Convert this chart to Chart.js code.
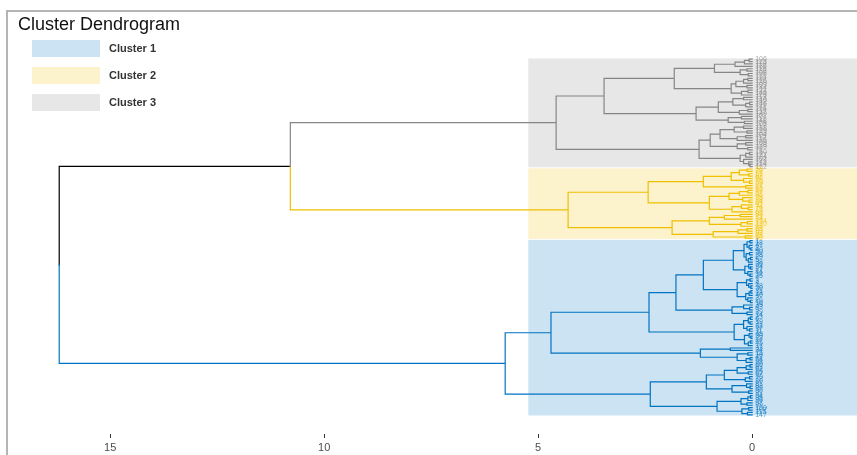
<!DOCTYPE html>
<html>
<head>
<meta charset="utf-8">
<title>Cluster Dendrogram</title>
<script src="https://cdn.jsdelivr.net/npm/chart.js@4/dist/chart.umd.min.js"></script>
<style>
  html, body { margin: 0; padding: 0; background: #fff; overflow: hidden; }
  #wrap { position: relative; width: 857px; height: 455px; }
  #frame { position: absolute; left: 6px; top: 10px; right: 0; bottom: 0;
           border-left: 2px solid #b4b4b4; border-top: 2px solid #b4b4b4; pointer-events: none; }
  canvas { position: absolute; left: 0; top: 0; }
  #title { position: absolute; left: 18px; top: 14px; font: 18px "Liberation Sans", Arial, sans-serif; color: #111; }
  .key { position: absolute; left: 32px; width: 68px; height: 17px; }
  .keylab { position: absolute; left: 109px; font: bold 11px "Liberation Sans", Arial, sans-serif; color: #333; }
</style>
</head>
<body>
<div id="wrap">
  <canvas id="dend" width="857" height="455"></canvas>
  <div id="frame"></div>
  <div id="title">Cluster Dendrogram</div>
  <div id="legend"></div>
</div>
<script>
// Cluster names and colours (JCO palette), rectangles are the same colours at 20% opacity
const clusterNames = ['Cluster 1', 'Cluster 2', 'Cluster 3'];
const clusterColors = ['#0073C2', '#EFC000', '#868686'];
const clusterFills = ['rgba(0,115,194,0.2)', 'rgba(239,192,0,0.2)', 'rgba(134,134,134,0.2)'];

// Subtrees: [height, upper child, lower child]; a bare number is a leaf (observation id)
const cluster3Tree = [4.58,
  [3.46,
    [1.82,
      [0.88,
        [0.40, [0.18, [0.07, 106, 123], 119], 136],
        [0.28, [0.12, 118, 132], [0.09, 108, 131]]],
      [0.49,
        [0.38, [0.20, [0.10, 110, 126], 130], [0.12, 103, 144]],
        [0.25, [0.10, 121, 145], 125]]],
    [1.31,
      [0.79, [0.45, [0.20, 113, 140], [0.15, [0.06, 142, 146], 141]], [0.30, [0.10, 116, 137], 149]],
      [0.56, [0.25, 101, 111], [0.18, 148, 105]]]],
  [1.24,
    [0.98,
      [0.75, [0.42, [0.20, 117, 138], [0.12, 129, 133]], [0.35, [0.15, 104, 112], 135]],
      [0.35, [0.15, 109, 128], [0.10, 139, 71]]],
    [0.28, [0.15, [0.06, 150, 127], 124], [0.20, 102, [0.08, 143, [0.05, 114, 122]]]]]];

const cluster2Tree = [4.30,
  [2.43,
    [1.14,
      [0.49, [0.30, [0.12, 53, 78], [0.08, 51, 87]], [0.20, 66, [0.06, 76, 59]]],
      [0.15, 77, 55]],
    [1.00,
      [0.54, [0.30, [0.10, 52, 57], 86], [0.22, 75, [0.07, 98, 64]]],
      [0.47, [0.25, 92, [0.09, 74, 79]], 69]]],
  [1.87,
    [1.00,
      [0.65, [0.28, 88, 73], 84],
      [0.26, [0.11, 134, 120], 63]],
    [0.91,
      [0.33, [0.12, 68, 83], 93],
      [0.16, 85, 56]]]];

const cluster1Tree = [5.77,
  [4.70,
    [2.41,
      [1.78,
        [1.14,
          [0.44,
            [0.19, [0.12, [0.05, 1, 18], [0.07, 41, [0.03, 8, 40]]], [0.14, [0.06, 50, 28], [0.09, [0.04, 29, 5], 38]]],
            [0.17, [0.08, 36, [0.04, 24, 27]], [0.10, 44, [0.05, 12, 25]]]],
          [0.35,
            [0.13, [0.05, 7, 3], [0.08, 4, [0.03, 48, 30]]],
            [0.15, [0.07, [0.03, 31, 13], 46], [0.10, 2, [0.04, 26, 10]]]]],
        [0.47, [0.20, 35, [0.06, 43, 9]], [0.12, 39, 14]]],
      [0.42,
        [0.20, [0.09, [0.04, 23, 6], [0.05, 19, 21]], [0.12, 32, [0.06, 37, 11]]],
        [0.18, [0.07, 49, [0.03, 20, 22]], [0.09, [0.04, 47, 45], 17]]]],
    [1.21,
      [0.51, 33, 34],
      [0.35, [0.10, 15, 16], [0.14, [0.05, 42, 54], 58]]]],
  [2.38,
    [1.07,
      [0.65, [0.35, [0.14, [0.05, 60, 61], 62], [0.09, 65, 67]], [0.16, [0.06, 70, 72], 80]],
      [0.47, [0.13, 81, [0.05, 82, 89]], [0.08, 90, 91]]],
    [0.82,
      [0.26, [0.10, [0.04, 94, 95], 96], [0.12, 97, 99]],
      [0.24, [0.08, 100, 107], [0.11, 115, 147]]]]];

// Heights of the two top merges: cluster 3 + cluster 2, then the root
const mergeHeights = [10.79, 16.19];
// Height at which the cluster rectangles start
const rectHeight = 5.23;
// Axis ticks
const xTickValues = [15, 10, 5, 0];

// ---- lay out the tree: leaves get consecutive positions, nodes sit midway between children
const leaves = [];
const segments = {};
let leafPos = 0;

function addEdge(parent, child) {
  const pts = segments[child.color] || (segments[child.color] = []);
  pts.push({ x: parent.h, y: parent.y }, { x: parent.h, y: child.y }, { x: child.h, y: child.y }, { x: NaN, y: NaN });
}

function place(node, color, cluster) {
  if (!Array.isArray(node)) {
    leafPos += 1;
    leaves.push({ label: String(node), y: leafPos, color: color, cluster: cluster });
    return { h: 0, y: leafPos, color: color };
  }
  const a = place(node[1], color, cluster);
  const b = place(node[2], color, cluster);
  const n = { h: node[0], y: (a.y + b.y) / 2, color: color };
  addEdge(n, a);
  addEdge(n, b);
  return n;
}

const c3 = place(cluster3Tree, clusterColors[2], 2);
const c2 = place(cluster2Tree, clusterColors[1], 1);
const c1 = place(cluster1Tree, clusterColors[0], 0);
const upper = { h: mergeHeights[0], y: (c3.y + c2.y) / 2, color: '#000000' };
addEdge(upper, c3);
addEdge(upper, c2);
const root = { h: mergeHeights[1], y: (upper.y + c1.y) / 2, color: '#000000' };
addEdge(root, upper);
addEdge(root, c1);

const clusterSpans = [0, 1, 2].map(k => {
  const ys = leaves.filter(l => l.cluster === k).map(l => l.y);
  return [Math.min(...ys) - 0.5, Math.max(...ys) + 0.5];
});

// Coloured rectangles behind each cluster
const rectPlugin = {
  id: 'clusterRects',
  beforeDatasetsDraw(chart) {
    const { ctx, chartArea, scales: { x, y } } = chart;
    ctx.save();
    clusterSpans.forEach((span, k) => {
      const left = x.getPixelForValue(rectHeight);
      const top = y.getPixelForValue(span[0]);
      const bottom = y.getPixelForValue(span[1]);
      ctx.fillStyle = clusterFills[k];
      ctx.fillRect(left, top + 0.5, chartArea.right - left, bottom - top - 1);
    });
    ctx.restore();
  }
};

// Leaf labels next to the leaves
const leafLabelPlugin = {
  id: 'leafLabels',
  afterDatasetsDraw(chart) {
    const { ctx, scales: { x, y } } = chart;
    ctx.save();
    ctx.font = '7px "Liberation Sans", Arial, sans-serif';
    ctx.textBaseline = 'middle';
    ctx.globalAlpha = 0.7;
    const x0 = x.getPixelForValue(0) + 3;
    leaves.forEach(l => {
      ctx.fillStyle = l.color;
      ctx.fillText(l.label, x0, y.getPixelForValue(l.y));
    });
    ctx.restore();
  }
};

const datasets = Object.keys(segments).map(color => ({
  data: segments[color],
  borderColor: color,
  borderWidth: 1.2,
  showLine: true,
  spanGaps: false,
  pointRadius: 0,
  pointHoverRadius: 0,
  fill: false,
  borderCapStyle: 'square',
  borderJoinStyle: 'miter'
}));

new Chart(document.getElementById('dend'), {
  type: 'scatter',
  data: { datasets: datasets },
  options: {
    responsive: false,
    animation: false,
    events: [],
    layout: { padding: { left: 10, top: 12, right: 0, bottom: 0 } },
    plugins: { legend: { display: false }, tooltip: { enabled: false } },
    scales: {
      x: {
        type: 'linear',
        reverse: true,
        min: -2.45,
        max: 17.34,
        afterBuildTicks: s => { s.ticks = xTickValues.map(v => ({ value: v })); },
        afterFit: s => { s.height = 21; },
        border: { display: false },
        grid: { drawOnChartArea: false, drawTicks: true, tickLength: 4, color: '#333333', lineWidth: 1 },
        ticks: { color: '#4d4d4d', padding: 3, font: { size: 11, family: '"Liberation Sans", Arial, sans-serif' } }
      },
      y: {
        type: 'linear',
        display: false,
        reverse: true,
        min: -18.77,
        max: 158.04
      }
    }
  },
  plugins: [rectPlugin, leafLabelPlugin]
});

// Legend entries
const legend = document.getElementById('legend');
const keyTops = [40, 67, 94];
clusterNames.forEach((name, k) => {
  const box = document.createElement('div');
  box.className = 'key';
  box.style.top = keyTops[k] + 'px';
  box.style.background = clusterFills[k];
  legend.appendChild(box);
  const lab = document.createElement('div');
  lab.className = 'keylab';
  lab.style.top = (keyTops[k] + 2) + 'px';
  lab.textContent = name;
  legend.appendChild(lab);
});
</script>
</body>
</html>
